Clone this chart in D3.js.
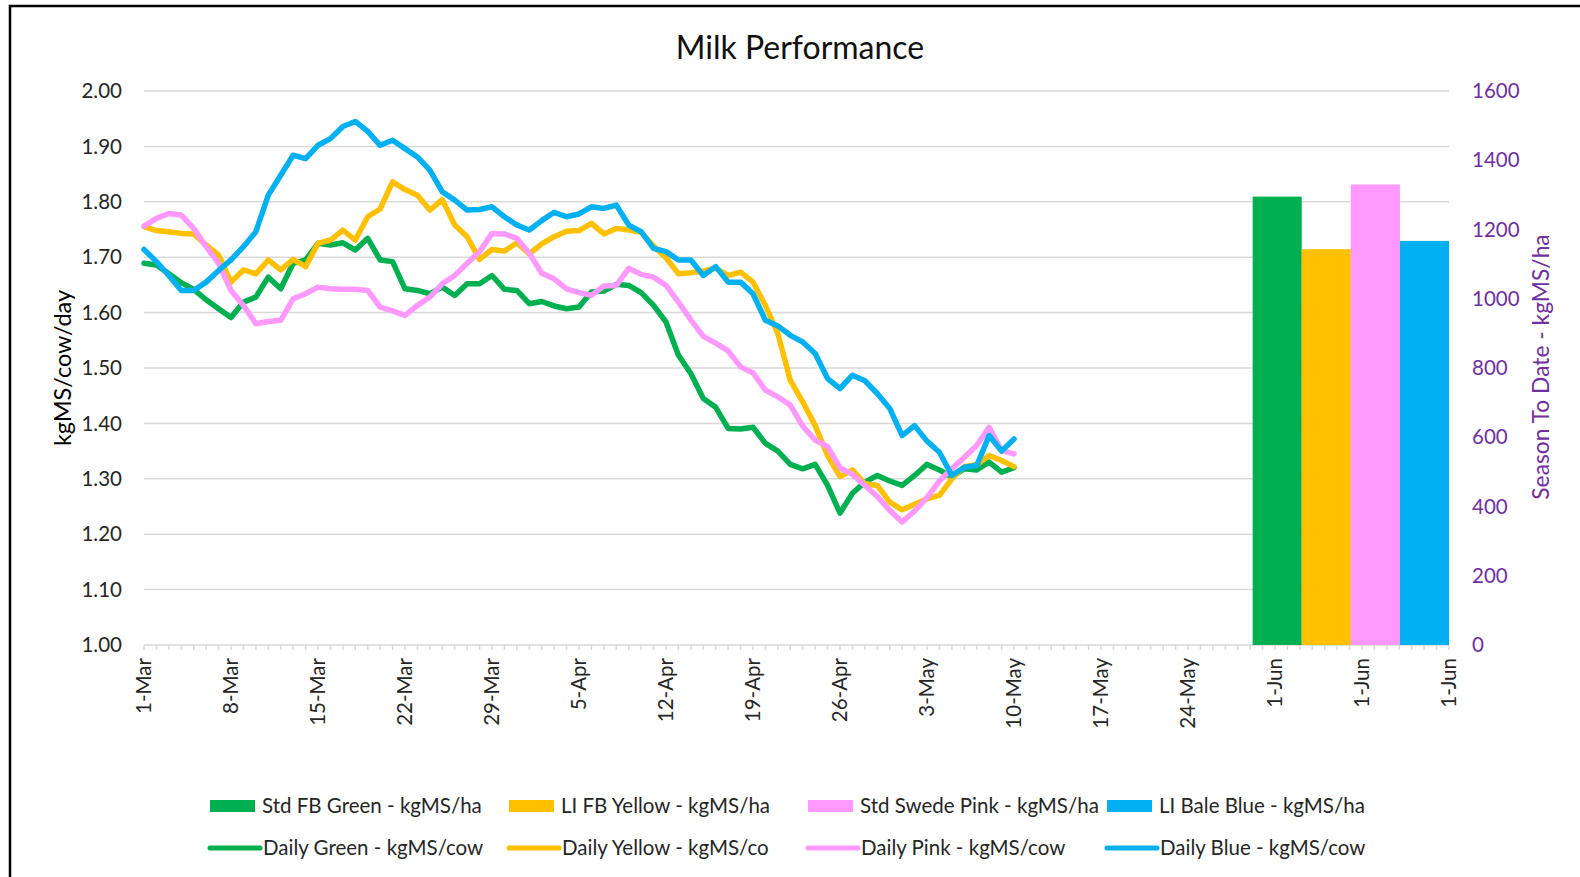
<!DOCTYPE html>
<html>
<head>
<meta charset="utf-8">
<script src="https://cdn.jsdelivr.net/npm/d3@7"></script>
<style>
body { margin: 0; background: #fff; }
svg { display: block; font-family: Lato, "Noto Sans", sans-serif; }
</style>
</head>
<body>
<svg id="chart" width="1580" height="877"></svg>
<script>
"use strict";

// x axis: one category per day, a label every 7th category
var tickLabels = ["1-Mar", "8-Mar", "15-Mar", "22-Mar", "29-Mar", "5-Apr", "12-Apr", "19-Apr",
    "26-Apr", "3-May", "10-May", "17-May", "24-May", "1-Jun", "1-Jun", "1-Jun"];
var tickEvery = 7;

// daily kgMS/cow, 1-Mar .. 10-May
var dailyGreen = [1.689, 1.686, 1.670, 1.654, 1.642, 1.623, 1.607, 1.591, 1.619, 1.628, 1.664,
    1.643, 1.689, 1.695, 1.725, 1.722, 1.726, 1.713, 1.734, 1.695, 1.692, 1.643, 1.640, 1.634,
    1.646, 1.631, 1.652, 1.652, 1.667, 1.642, 1.640, 1.616, 1.620, 1.612, 1.607, 1.610, 1.637,
    1.639, 1.651, 1.649, 1.636, 1.613, 1.583, 1.523, 1.490, 1.445, 1.429, 1.391, 1.390, 1.393,
    1.364, 1.350, 1.326, 1.318, 1.326, 1.288, 1.238, 1.274, 1.294, 1.306, 1.296, 1.288, 1.306,
    1.326, 1.316, 1.303, 1.318, 1.316, 1.330, 1.312, 1.320];
var dailyYellow = [1.755, 1.748, 1.746, 1.743, 1.742, 1.722, 1.704, 1.655, 1.677, 1.670, 1.695,
    1.677, 1.696, 1.683, 1.725, 1.731, 1.749, 1.731, 1.773, 1.787, 1.836, 1.822, 1.812, 1.785,
    1.804, 1.758, 1.737, 1.696, 1.714, 1.711, 1.726, 1.706, 1.724, 1.737, 1.747, 1.748, 1.761,
    1.742, 1.752, 1.749, 1.745, 1.720, 1.699, 1.670, 1.672, 1.675, 1.680, 1.667, 1.673, 1.655,
    1.613, 1.562, 1.478, 1.439, 1.396, 1.342, 1.304, 1.316, 1.291, 1.288, 1.258, 1.244, 1.254,
    1.264, 1.270, 1.300, 1.322, 1.326, 1.342, 1.333, 1.322];
var dailyPink = [1.756, 1.770, 1.779, 1.776, 1.752, 1.719, 1.689, 1.640, 1.613, 1.580, 1.584,
    1.586, 1.625, 1.634, 1.646, 1.643, 1.642, 1.642, 1.640, 1.610, 1.603, 1.595, 1.613, 1.628,
    1.652, 1.667, 1.689, 1.710, 1.743, 1.742, 1.734, 1.707, 1.671, 1.661, 1.643, 1.636, 1.631,
    1.648, 1.649, 1.680, 1.669, 1.664, 1.649, 1.619, 1.587, 1.557, 1.545, 1.531, 1.502, 1.491,
    1.460, 1.448, 1.433, 1.395, 1.370, 1.358, 1.320, 1.308, 1.288, 1.268, 1.243, 1.222, 1.242,
    1.266, 1.296, 1.318, 1.339, 1.360, 1.393, 1.351, 1.345];
var dailyBlue = [1.714, 1.692, 1.667, 1.640, 1.640, 1.655, 1.676, 1.695, 1.719, 1.746, 1.812,
    1.848, 1.884, 1.878, 1.902, 1.914, 1.936, 1.945, 1.927, 1.902, 1.911, 1.896, 1.881, 1.857,
    1.818, 1.803, 1.785, 1.786, 1.791, 1.773, 1.758, 1.749, 1.766, 1.781, 1.773, 1.778, 1.791,
    1.788, 1.794, 1.758, 1.746, 1.716, 1.710, 1.695, 1.695, 1.667, 1.683, 1.655, 1.655, 1.634,
    1.586, 1.576, 1.559, 1.547, 1.526, 1.481, 1.463, 1.487, 1.477, 1.454, 1.427, 1.378, 1.396,
    1.368, 1.348, 1.306, 1.321, 1.324, 1.378, 1.350, 1.372];

// season to date kgMS/ha (secondary axis)
var barNames = ["Std FB Green - kgMS/ha", "LI FB Yellow - kgMS/ha",
    "Std Swede Pink - kgMS/ha", "LI Bale Blue - kgMS/ha"];
var barValues = [1295, 1143, 1330, 1167];
var lineNames = ["Daily Green - kgMS/cow", "Daily Yellow - kgMS/co",
    "Daily Pink - kgMS/cow", "Daily Blue - kgMS/cow"];
var colors = ["#00B050", "#FFC000", "#FF99FF", "#00B0F0"];

var leftTicks = [1.0, 1.1, 1.2, 1.3, 1.4, 1.5, 1.6, 1.7, 1.8, 1.9, 2.0];
var rightTicks = [0, 200, 400, 600, 800, 1000, 1200, 1400, 1600];

var lines = [dailyGreen, dailyYellow, dailyPink, dailyBlue];
var nCats = (tickLabels.length - 1) * tickEvery + 1;

var svg = d3.select("#chart");
var textColor = "#262626";
var gridColor = "#d9d9d9";
var purple = "#7030A0";

var x = d3.scaleLinear().domain([0, nCats - 1]).range([144, 1449]);
var yL = d3.scaleLinear().domain([1, 2]).range([645, 91]);
var yR = d3.scaleLinear().domain([0, 1600]).range([645, 91]);

// frame
svg.append("path")
    .attr("d", "M10,877V6H1580")
    .attr("fill", "none")
    .attr("stroke", "#000")
    .attr("stroke-width", 2.5);

svg.append("text")
    .attr("x", 800).attr("y", 59)
    .attr("text-anchor", "middle")
    .attr("font-size", 32)
    .attr("fill", "#111")
    .text("Milk Performance");

// gridlines
svg.append("g").selectAll("line")
    .data(leftTicks.slice(1))
    .enter().append("line")
    .attr("x1", x(0)).attr("x2", x(nCats - 1))
    .attr("y1", function (d) { return yL(d); })
    .attr("y2", function (d) { return yL(d); })
    .attr("stroke", gridColor)
    .attr("stroke-width", 1.5);

// category axis
var xAxis = svg.append("g").attr("transform", "translate(0," + yL(1) + ")");
xAxis.append("line")
    .attr("x1", x(0)).attr("x2", x(nCats - 1))
    .attr("stroke", gridColor).attr("stroke-width", 1.5);
xAxis.selectAll("line.tick")
    .data(d3.range(nCats))
    .enter().append("line")
    .attr("class", "tick")
    .attr("x1", function (d) { return x(d); })
    .attr("x2", function (d) { return x(d); })
    .attr("y1", 0).attr("y2", 5)
    .attr("stroke", gridColor).attr("stroke-width", 1.5);
xAxis.selectAll("text")
    .data(tickLabels)
    .enter().append("text")
    .attr("transform", function (d, i) {
        return "translate(" + x(i * tickEvery) + ",13) rotate(-90)";
    })
    .attr("dy", "0.35em")
    .attr("text-anchor", "end")
    .attr("font-size", 20.5)
    .attr("fill", textColor)
    .text(function (d) { return d; });

// left axis labels
svg.append("g").selectAll("text")
    .data(leftTicks)
    .enter().append("text")
    .attr("x", 122)
    .attr("y", function (d) { return yL(d); })
    .attr("dy", "0.35em")
    .attr("text-anchor", "end")
    .attr("font-size", 20.5)
    .attr("fill", textColor)
    .text(d3.format(".2f"));

// right axis labels
svg.append("g").selectAll("text")
    .data(rightTicks)
    .enter().append("text")
    .attr("x", 1472)
    .attr("y", function (d) { return yR(d); })
    .attr("dy", "0.35em")
    .attr("font-size", 20.5)
    .attr("fill", purple)
    .text(function (d) { return d; });

svg.append("text")
    .attr("transform", "translate(63,368) rotate(-90)")
    .attr("dy", "0.35em")
    .attr("text-anchor", "middle")
    .attr("font-size", 23.5)
    .attr("fill", "#000")
    .text("kgMS/cow/day");

svg.append("text")
    .attr("transform", "translate(1541,367) rotate(-90)")
    .attr("dy", "0.35em")
    .attr("text-anchor", "middle")
    .attr("font-size", 22.8)
    .attr("fill", purple)
    .text("Season To Date - kgMS/ha");

// season to date bars
var barStart = 89.2;
var xb = d3.scaleBand().domain(barNames).range([x(barStart), x(nCats - 1)]);
svg.append("g").selectAll("rect")
    .data(barValues)
    .enter().append("rect")
    .attr("x", function (d, i) { return xb(barNames[i]); })
    .attr("width", xb.bandwidth())
    .attr("y", function (d) { return yR(d); })
    .attr("height", function (d) { return yR(0) - yR(d); })
    .attr("fill", function (d, i) { return colors[i]; });

// daily lines
var line = d3.line()
    .x(function (d, i) { return x(i); })
    .y(function (d) { return yL(d); });
svg.append("g").selectAll("path")
    .data(lines)
    .enter().append("path")
    .attr("d", line)
    .attr("fill", "none")
    .attr("stroke", function (d, i) { return colors[i]; })
    .attr("stroke-width", 5.5)
    .attr("stroke-linejoin", "round")
    .attr("stroke-linecap", "round");

// legend
var legend = svg.append("g");
var cols = legend.selectAll("g")
    .data(colors)
    .enter().append("g")
    .attr("transform", function (d, i) { return "translate(" + (210 + i * 299) + ",0)"; });
cols.append("rect")
    .attr("x", 0).attr("y", 800)
    .attr("width", 45).attr("height", 12)
    .attr("fill", function (d) { return d; });
cols.append("text")
    .attr("x", 52).attr("y", 806)
    .attr("dy", "0.35em")
    .attr("font-size", 20.5)
    .attr("fill", textColor)
    .text(function (d, i) { return barNames[i]; });
cols.append("line")
    .attr("x1", 0).attr("x2", 50)
    .attr("y1", 848).attr("y2", 848)
    .attr("stroke", function (d) { return d; })
    .attr("stroke-width", 5)
    .attr("stroke-linecap", "round");
cols.append("text")
    .attr("x", 53).attr("y", 848)
    .attr("dy", "0.35em")
    .attr("font-size", 20.5)
    .attr("fill", textColor)
    .text(function (d, i) { return lineNames[i]; });
</script>
</body>
</html>
